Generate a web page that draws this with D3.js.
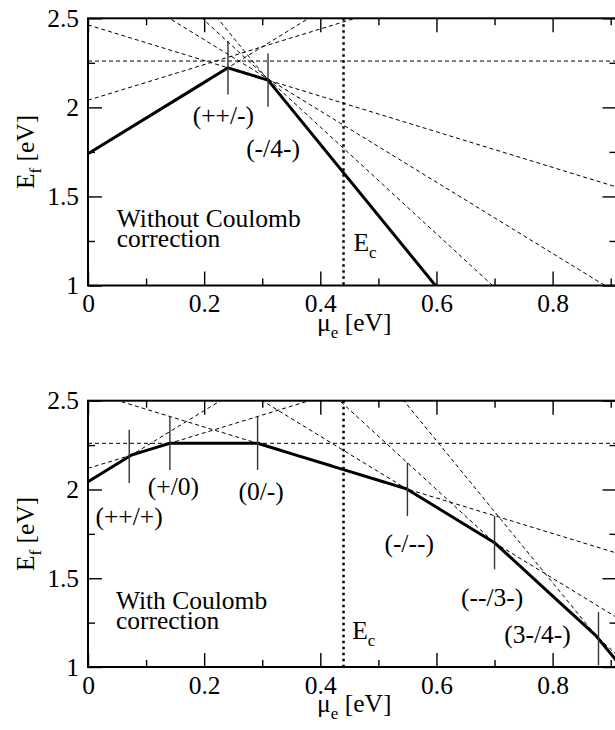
<!DOCTYPE html>
<html><head><meta charset="utf-8">
<script src="https://cdn.jsdelivr.net/npm/d3@7"></script>
<style>
body{margin:0;background:#fff}
svg{display:block}
svg text{font-family:"Liberation Serif","Times New Roman","DejaVu Serif",serif !important;fill:#000}
</style>
</head><body>
<svg id="chart" width="615" height="730" font-family="Liberation Serif, Times New Roman, serif"></svg>
<script>
// ---------------- data ----------------
const xMax = 0.91;
const charges = [2, 1, 0, -1, -2, -3, -4];
// formation-energy intercepts at mu_e = 0 for each charge state
const interceptsNoCorr = [1.74, 2.04, 2.26, 2.463, 2.78, 3.09, 3.393];
const interceptsCorr   = [2.044, 2.119, 2.26, 2.552, 3.10, 3.80, 4.675];
// transition levels (mu_e) and their labels
const transitionsNoCorr = [0.241, 0.31];
const transitionLabelsNoCorr = ["(++/-)", "(-/4-)"];
const transitionsCorr = [0.071, 0.141, 0.292, 0.550, 0.700, 0.879];
const transitionLabelsCorr = ["(++/+)", "(+/0)", "(0/-)", "(-/--)", "(--/3-)", "(3-/4-)"];
const conductionBand = 0.44;
const panelTitles = [["Without Coulomb", "correction"], ["With Coulomb", "correction"]];
// tick values / labels
const xMajor = [0, 0.2, 0.4, 0.6, 0.8];
const xTickLabels = ["0", "0.2", "0.4", "0.6", "0.8"];
const xMinor = [0.1, 0.3, 0.5, 0.7, 0.9];
const yMajor = [1, 1.5, 2, 2.5];
const yTickLabels = ["1", "1.5", "2", "2.5"];
const yMinor = [1.25, 1.75, 2.25];
const yDomain = [1, 2.5];

// ---------------- layout ----------------
const FONT = '"Liberation Serif","Times New Roman","DejaVu Serif",serif';
const layout = {
  xRange: [88, 616.5],
  fontSize: 25.5,
  subSize: 17,
  markerHalf: 0.15,
  panels: [
    { top: 18.3, bottom: 285.5,
      labelPos: [[0.233, 1.907], [0.3186, 1.721]],
      titlePos: [0.0496, 1.328], ecPos: [0.457, 1.195] },
    { top: 400.7, bottom: 667,
      labelPos: [[0.0708, 1.80], [0.147, 1.969], [0.298, 1.941], [0.553, 1.65], [0.696, 1.341], [0.774, 1.136]],
      titlePos: [0.048, 1.326], ecPos: [0.455, 1.157] }
  ]
};

const svg = d3.select("#chart");

function txt(sel) {
  return sel.style("font-family", FONT).style("font-size", layout.fontSize + "px").attr("fill", "#000");
}

function styleAxis(g) {
  g.select(".domain").remove();
  g.attr("font-family", null).attr("font-size", null);
  g.selectAll(".tick line").attr("stroke", "#000").attr("stroke-width", 1.4);
  txt(g.selectAll("text"));
}

function drawPanel(idx, intercepts, transitions, labels) {
  const P = layout.panels[idx];
  const x = d3.scaleLinear().domain([0, xMax]).range(layout.xRange);
  const y = d3.scaleLinear().domain(yDomain).range([P.bottom, P.top]);
  const g = svg.append("g");
  const clipId = "clip" + idx;
  g.append("clipPath").attr("id", clipId).append("rect")
    .attr("x", x(0)).attr("y", y(2.5)).attr("width", x(xMax) - x(0)).attr("height", y(1) - y(2.5));

  const plot = g.append("g").attr("clip-path", `url(#${clipId})`);
  const lineGen = d3.line().x(d => x(d[0])).y(d => y(d[1]));
  const E = (i, mu) => intercepts[i] + charges[i] * mu;

  // dashed charge-state lines
  charges.forEach((q, i) => {
    plot.append("path").datum([[0, E(i, 0)], [xMax, E(i, xMax)]])
      .attr("d", lineGen).attr("fill", "none").attr("stroke", "#000")
      .attr("stroke-width", 1).attr("stroke-dasharray", "4,3");
  });

  // lower envelope
  const envE = mu => d3.min(charges, (q, i) => E(i, mu));
  let mus = [0, xMax];
  for (let i = 0; i < charges.length; i++)
    for (let j = i + 1; j < charges.length; j++) {
      const m = (intercepts[j] - intercepts[i]) / (charges[i] - charges[j]);
      if (m > 0 && m < xMax) mus.push(m);
    }
  mus.sort((a, b) => a - b);
  plot.append("path").datum(mus.map(m => [m, envE(m)]))
    .attr("d", lineGen).attr("fill", "none").attr("stroke", "#000")
    .attr("stroke-width", 3).attr("stroke-linejoin", "round");

  // dotted conduction band line
  plot.append("line").attr("x1", x(conductionBand)).attr("x2", x(conductionBand))
    .attr("y1", y(2.5)).attr("y2", y(1))
    .attr("stroke", "#000").attr("stroke-width", 2.5).attr("stroke-dasharray", "2.5,3.5");

  // transition markers
  transitions.forEach(t => {
    const e = envE(t);
    g.append("line").attr("x1", x(t)).attr("x2", x(t))
      .attr("y1", y(e + layout.markerHalf)).attr("y2", y(e - layout.markerHalf))
      .attr("stroke", "#333").attr("stroke-width", 1.4);
  });

  // transition labels
  labels.forEach((lab, i) => {
    const p = P.labelPos[i];
    txt(g.append("text").attr("x", x(p[0])).attr("y", y(p[1]))
      .attr("text-anchor", "middle")).text(lab);
  });

  // panel title (two lines in one text element)
  const tt = txt(g.append("text").attr("x", x(P.titlePos[0])).attr("y", y(P.titlePos[1])));
  panelTitles[idx].forEach((line, k) => {
    tt.append("tspan").attr("x", x(P.titlePos[0])).attr("dy", k === 0 ? 0 : 20).text(line);
  });

  // E_c label
  const ec = txt(g.append("text").attr("x", x(P.ecPos[0])).attr("y", y(P.ecPos[1])));
  ec.append("tspan").text("E");
  ec.append("tspan").attr("dy", 7).style("font-size", layout.subSize + "px").text("c");

  // axes
  const ax = g.append("g").attr("transform", `translate(0,${y(1)})`)
    .call(d3.axisBottom(x).tickValues(xMajor).tickFormat((d, i) => xTickLabels[i])
      .tickSizeInner(-14).tickSizeOuter(0).tickPadding(8.5));
  styleAxis(ax);
  const axm = g.append("g").attr("transform", `translate(0,${y(1)})`)
    .call(d3.axisBottom(x).tickValues(xMinor).tickFormat("").tickSizeInner(-7).tickSizeOuter(0));
  styleAxis(axm);
  const at = g.append("g").attr("transform", `translate(0,${y(2.5)})`)
    .call(d3.axisTop(x).tickValues(xMajor).tickFormat("").tickSizeInner(-14).tickSizeOuter(0));
  styleAxis(at);
  const atm = g.append("g").attr("transform", `translate(0,${y(2.5)})`)
    .call(d3.axisTop(x).tickValues(xMinor).tickFormat("").tickSizeInner(-7).tickSizeOuter(0));
  styleAxis(atm);
  const al = g.append("g").attr("transform", `translate(${x(0)},0)`)
    .call(d3.axisLeft(y).tickValues(yMajor).tickFormat((d, i) => yTickLabels[i])
      .tickSizeInner(-14).tickSizeOuter(0).tickPadding(9));
  styleAxis(al);
  const alm = g.append("g").attr("transform", `translate(${x(0)},0)`)
    .call(d3.axisLeft(y).tickValues(yMinor).tickFormat("").tickSizeInner(-7).tickSizeOuter(0));
  styleAxis(alm);
  const ar = g.append("g").attr("transform", `translate(${x(xMax)},0)`)
    .call(d3.axisRight(y).tickValues(yMajor).tickFormat("").tickSizeInner(-14).tickSizeOuter(0));
  styleAxis(ar);
  const arm = g.append("g").attr("transform", `translate(${x(xMax)},0)`)
    .call(d3.axisRight(y).tickValues(yMinor).tickFormat("").tickSizeInner(-7).tickSizeOuter(0));
  styleAxis(arm);

  // frame
  g.append("rect").attr("x", x(0)).attr("y", y(2.5))
    .attr("width", x(xMax) - x(0)).attr("height", y(1) - y(2.5))
    .attr("fill", "none").attr("stroke", "#000").attr("stroke-width", 2);

  // axis titles
  const xt = txt(g.append("text").attr("x", (x(0) + x(xMax)) / 2 + 2).attr("y", y(1) + 45)
    .attr("text-anchor", "middle"));
  xt.append("tspan").text("\u03bc");
  xt.append("tspan").attr("dy", 7).style("font-size", layout.subSize + "px").text("e");
  xt.append("tspan").attr("dy", -7).text(" [eV]");

  const yt = txt(g.append("text")
    .attr("transform", `translate(34,${(y(1) + y(2.5)) / 2}) rotate(-90)`)
    .attr("text-anchor", "middle"));
  yt.append("tspan").text("E");
  yt.append("tspan").attr("dy", 7).style("font-size", layout.subSize + "px").text("f");
  yt.append("tspan").attr("dy", -7).text(" [eV]");
}

drawPanel(0, interceptsNoCorr, transitionsNoCorr, transitionLabelsNoCorr);
drawPanel(1, interceptsCorr, transitionsCorr, transitionLabelsCorr);
</script>
</body></html>
